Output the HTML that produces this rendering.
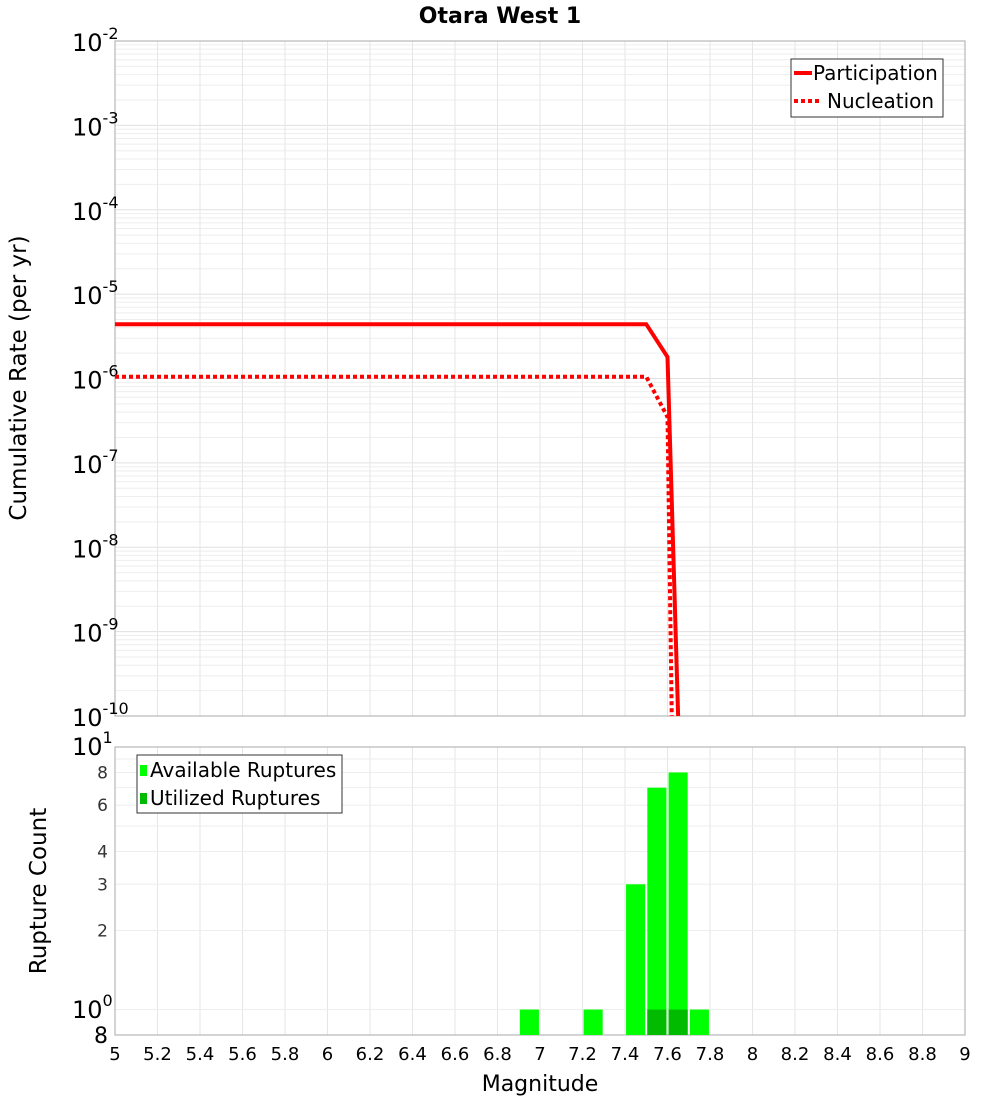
<!DOCTYPE html>
<html><head><meta charset="utf-8"><style>
body{margin:0;background:#fff;font-family:"Liberation Sans","DejaVu Sans",sans-serif}
</style></head><body>
<svg id="c" width="1000" height="1100" xmlns="http://www.w3.org/2000/svg" font-family="DejaVu Sans, Liberation Sans, sans-serif"></svg>
<script>
const partX=[5,7.5,7.6,7.65];
const partY=[4.4e-6,4.4e-6,1.8e-6,1e-10];
const nuclX=[5,7.5,7.6,7.62];
const nuclY=[1.05e-6,1.05e-6,3.5e-7,1e-10];
const binCenters=[6.95,7.25,7.45,7.55,7.65,7.75];
const availCounts=[1,1,3,7,8,1];
const utilCounts=[0,0,0,1,1,0];
const xTicks=[5,5.2,5.4,5.6,5.8,6,6.2,6.4,6.6,6.8,7,7.2,7.4,7.6,7.8,8,8.2,8.4,8.6,8.8,9];
const xTickLabels=["5","5.2","5.4","5.6","5.8","6","6.2","6.4","6.6","6.8","7","7.2","7.4","7.6","7.8","8","8.2","8.4","8.6","8.8","9"];
const topExps=[-2,-3,-4,-5,-6,-7,-8,-9,-10];
const botTicks=[8,6,4,3,2];

const svg=document.getElementById('c');const NS='http://www.w3.org/2000/svg';
function el(t,a,p){const e=document.createElementNS(NS,t);for(const k in a)e.setAttribute(k,a[k]);(p||svg).appendChild(e);return e;}
const L=115,R=965,T1=41,B1=716,T2=747,B2=1035;
const xs=v=>L+(v-5)/4*(R-L);
const y1=v=>T1+(-2-Math.log10(v))/8*(B1-T1);
const y2=v=>B2-(Math.log10(v)-Math.log10(0.8))/(1-Math.log10(0.8))*(B2-T2);

let t=el('text',{x:500,y:23,'text-anchor':'middle','font-size':22,'font-weight':'bold'});t.textContent='Otara West 1';


const g1=el('g',{});
for(let e=-10;e<-2;e++)for(let m=1;m<10;m++){const y=y1(m*Math.pow(10,e));el('line',{x1:L,x2:R,y1:y,y2:y,stroke:m==1?'#e0e0e0':'#eeeeee','stroke-width':1},g1);}
xTicks.forEach(v=>{el('line',{x1:xs(v),x2:xs(v),y1:T1,y2:B1,stroke:'#e6e6e6'},g1);el('line',{x1:xs(v),x2:xs(v),y1:T2,y2:B2,stroke:'#e6e6e6'},g1);});
for(let m=1;m<=10;m++){const y=y2(m);el('line',{x1:L,x2:R,y1:y,y2:y,stroke:'#eeeeee'},g1);}
el('rect',{x:L,y:T1,width:R-L,height:B1-T1,fill:'none',stroke:'#aaa'});
el('rect',{x:L,y:T2,width:R-L,height:B2-T2,fill:'none',stroke:'#aaa'});

topExps.forEach(e=>{const y=y1(Math.pow(10,e));const tx=el('text',{x:72,y:y+10,'font-size':24});

tx.innerHTML='10<tspan dy="-12" font-size="16">'+e+'</tspan>';});
t=el('text',{x:0,y:0,'font-size':23,'text-anchor':'middle',transform:'translate(26,378) rotate(-90)'});t.textContent='Cumulative Rate (per yr)';


const clip=el('clipPath',{id:'cp'});el('rect',{x:L,y:T1,width:R-L,height:B1-T1},clip);
let p=el('polyline',{points:partX.map((x,i)=>xs(x)+','+y1(partY[i])).join(' '),fill:'none',stroke:'#ff0000','stroke-width':4,'clip-path':'url(#cp)'});

p=el('polyline',{points:nuclX.map((x,i)=>xs(x)+','+y1(nuclY[i])).join(' '),fill:'none',stroke:'#ff0000','stroke-width':4,'stroke-dasharray':'4,3','clip-path':'url(#cp)'});


const lg=el('g',{});
el('rect',{x:791,y:59,width:152,height:58,fill:'#fff',stroke:'#333'},lg);
el('line',{x1:794,x2:812,y1:73,y2:73,stroke:'#f00','stroke-width':4},lg);
el('line',{x1:794,x2:822,y1:101,y2:101,stroke:'#f00','stroke-width':4,'stroke-dasharray':'4,3'},lg);
t=el('text',{x:813,y:80,'font-size':20},lg);t.textContent='Participation';
t=el('text',{x:827,y:108,'font-size':20},lg);t.textContent='Nucleation';

const bw=0.09;
binCenters.forEach((c,i)=>{const b=el('rect',{x:xs(c-bw/2),y:y2(availCounts[i]),width:xs(c+bw/2)-xs(c-bw/2),height:B2-y2(availCounts[i]),fill:'#00ff00'});

if(utilCounts[i]>0){const u=el('rect',{x:xs(c-bw/2),y:y2(utilCounts[i]),width:xs(c+bw/2)-xs(c-bw/2),height:B2-y2(utilCounts[i]),fill:'#00bb00'});
}});

botTicks.forEach(v=>{const tx=el('text',{x:108,y:y2(v)+6,'font-size':17,'text-anchor':'end',fill:'#333'});tx.textContent=v;
});
t=el('text',{x:72,y:755,'font-size':24});t.innerHTML='10<tspan dy="-12" font-size="16">1</tspan>';
t=el('text',{x:72,y:1018,'font-size':24});t.innerHTML='10<tspan dy="-12" font-size="16">0</tspan>';
t=el('text',{x:108,y:1043,'font-size':22,'text-anchor':'end'});t.textContent='8';
t=el('text',{x:0,y:0,'font-size':23,'text-anchor':'middle',transform:'translate(46,891) rotate(-90)'});t.textContent='Rupture Count';


const lg2=el('g',{});
el('rect',{x:137,y:755,width:205,height:58,fill:'#fff',stroke:'#333'},lg2);
el('rect',{x:140,y:765,width:7,height:11,fill:'#00ff00'},lg2);
el('rect',{x:140,y:793,width:7,height:11,fill:'#00bb00'},lg2);
t=el('text',{x:150,y:777,'font-size':20},lg2);t.textContent='Available Ruptures';
t=el('text',{x:150,y:805,'font-size':20},lg2);t.textContent='Utilized Ruptures';

xTicks.forEach((v,i)=>{const tx=el('text',{x:xs(v),y:1060,'font-size':18,'text-anchor':'middle'});tx.textContent=xTickLabels[i];
});
t=el('text',{x:540,y:1091,'font-size':22,'text-anchor':'middle'});t.textContent='Magnitude';

</script>
</body></html>
